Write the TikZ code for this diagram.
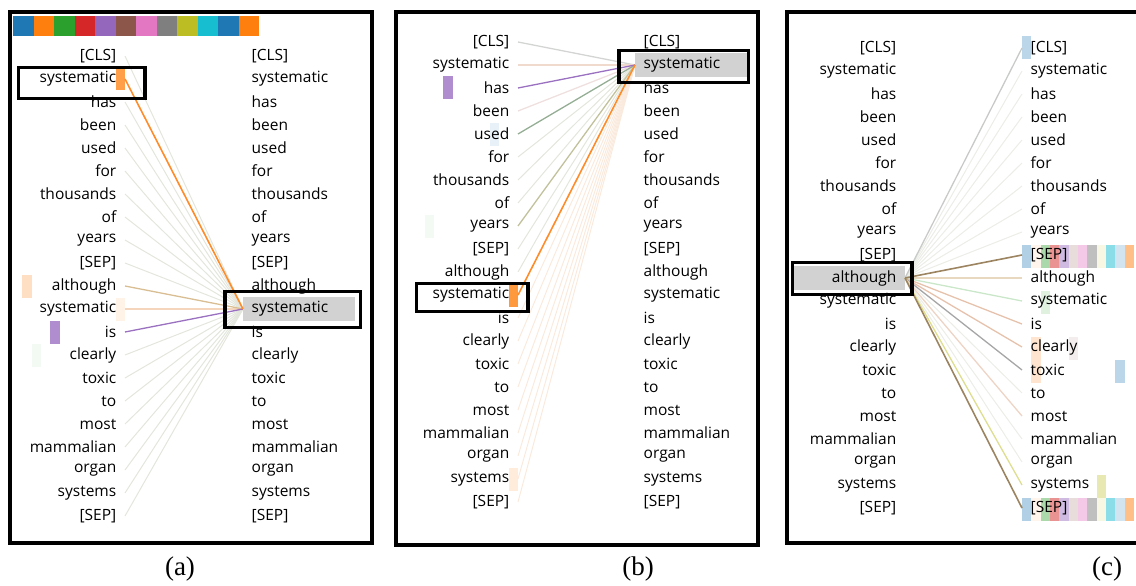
\documentclass[tikz,border=0pt]{standalone}
\usepackage{fontspec}
\setmainfont{Liberation Serif}
\newfontfamily\wordfont{Open Sans}
\usetikzlibrary{calc,backgrounds}

% head colours
\definecolor{tabblue}{HTML}{1F77B4}
\definecolor{taborange}{HTML}{FF7F0E}
\definecolor{tabgreen}{HTML}{2CA02C}
\definecolor{tabred}{HTML}{D62728}
\definecolor{tabpurple}{HTML}{9467BD}
\definecolor{tabbrown}{HTML}{8C564B}
\definecolor{tabpink}{HTML}{E377C2}
\definecolor{tabgray}{HTML}{7F7F7F}
\definecolor{tabolive}{HTML}{BCBD22}
\definecolor{tabcyan}{HTML}{17BECF}
% link colours
\definecolor{faintln}{HTML}{E3E6DC}
\definecolor{tanln}{HTML}{D9BE94}
\definecolor{peachln}{HTML}{F5D5BC}
\definecolor{purpleln}{HTML}{9A70C0}
\definecolor{orangeln}{HTML}{FF8C2A}
\definecolor{greyln}{HTML}{C8CAC8}
\definecolor{brownln}{HTML}{9C8460}
\definecolor{salmonln}{HTML}{E6C2AC}

\def\tokens{{[CLS]},systematic,has,been,used,for,thousands,of,years,{[SEP]},although,systematic,is,clearly,toxic,to,most,mammalian,organ,systems,{[SEP]}}
% one attention cell: x0, row y, head, colour, opacity
\newcommand{\heat}[5]{\fill[#4,opacity=#5] ({#1+9.33*#3},{#2-11.5}) rectangle ++(9.33,23);}

\begin{document}
\begin{tikzpicture}[x=1pt,y=-1pt]
\tikzset{
lword/.style={anchor=east, text width=95pt, align=right, inner xsep=8.5pt, inner ysep=0pt, minimum height=23pt, font=\wordfont\fontsize{15.5}{17}\selectfont},
rword/.style={lword, anchor=west, align=left},
panel/.style={draw=black, line width=3.5pt},
hlbox/.style={draw=black, line width=3.5pt},
link/.style={line width=1.3pt},
weak/.style={line width=1pt, draw=faintln},
caption/.style={font=\fontsize{27}{30}\selectfont},
}
\useasboundingbox (0,0) rectangle (1136,586);

% frames
\draw[panel] (10,12) rectangle (372,543);
\draw[panel] (396,12) rectangle (758,545);
\draw[panel] (787,12) rectangle (1150,543);

% head legend
\foreach \c [count=\k from 0] in {tabblue,taborange,tabgreen,tabred,tabpurple,tabbrown,tabpink,tabgray,tabolive,tabcyan,tabblue,taborange}
  \fill[\c] ({13+20.5*\k},16) rectangle ++(20.5,20);

% attention cells
\heat{13}{79}{11}{taborange}{.75}
\heat{13}{286}{1}{taborange}{.25}
\heat{13}{309}{11}{taborange}{.1}
\heat{13}{332}{4}{tabpurple}{.75}
\heat{13}{355}{2}{tabgreen}{.06}
\heat{406}{88}{4}{tabpurple}{.75}
\heat{406}{295}{11}{taborange}{.8}
\heat{406}{479}{11}{taborange}{.15}
\heat{406}{134}{9}{tabblue}{.1}
\heat{406}{226}{2}{tabgreen}{.06}
\foreach \y in {256,509}{
  \foreach \c/\o [count=\k from 0] in {tabblue/.35,taborange/.08,tabgreen/.4,tabred/.5,tabpurple/.45,tabbrown/.2,tabpink/.4,tabgray/.5,tabolive/.12,tabcyan/.5,tabblue/.2,taborange/.5}
    {\heat{1022}{\y}{\k}{\c}{\o}}
}
\heat{1022}{48}{0}{tabblue}{.3}
\heat{1022}{302}{2}{tabgreen}{.15}
\heat{1022}{348}{1}{taborange}{.2}
\heat{1022}{348}{5}{tabbrown}{.1}
\heat{1022}{371}{1}{taborange}{.2}
\heat{1022}{371}{10}{tabblue}{.3}
\heat{1022}{486}{8}{tabolive}{.35}

% tokens
\foreach \p/\lx/\rx/\ty in {a/125/243/56, b/518/635/42, c/905/1022/48}{
  \foreach \w [count=\i] in \tokens {
    \node[lword] (\p L\i) at (\lx,{\ty+23*(\i-1)}) {\w};
    \node[rword] (\p R\i) at (\rx,{\ty+23*(\i-1)}) {\w};
  }
}
\begin{scope}[on background layer]
\fill[gray!35] (aR12.north west) rectangle (aR12.south east);
\fill[gray!35] (bR2.north west) rectangle (bR2.south east);
\fill[gray!35] (cL11.north west) rectangle (cL11.south east);
\end{scope}

% (a) links into systematic
\foreach \i in {1,3,4,5,6,7,8,9,10,14,15,16,17,18,19,20,21}
  \draw[weak] (aL\i.east) -- (aR12.west);
\draw[link, draw=peachln] (aL12.east) -- (aR12.west);
\draw[link, draw=tanln] (aL11.east) -- (aR12.west);
\draw[link, draw=purpleln] (aL13.east) -- (aR12.west);
\draw[link, draw=orangeln, line width=1.6pt] (aL2.east) -- (aR12.west);

% (b) links into systematic
\foreach \i in {6,7,8,10,11}
  \draw[weak] (bL\i.east) -- (bR2.west);
\foreach \i in {13,14,15,16,17,18,19,20,21}
  \draw[weak, draw=peachln!50] (bL\i.east) -- (bR2.west);
\draw[link, draw=greyln!80] (bL1.east) -- (bR2.west);
\draw[link, draw=salmonln!60] (bL2.east) -- (bR2.west);
\draw[link, draw=salmonln!80!purpleln!40] (bL4.east) -- (bR2.west);
\draw[link, draw=tabgreen!30!gray!70] (bL5.east) -- (bR2.west);
\draw[link, draw=tabolive!40!gray!60] (bL9.east) -- (bR2.west);
\draw[link, draw=purpleln] (bL3.east) -- (bR2.west);
\draw[link, draw=orangeln, line width=1.6pt] (bL12.east) -- (bR2.west);

% (c) links out of although
\foreach \i in {2,3,4,5,6,7,8,9,16,18,19}
  \draw[weak, draw=faintln!70] (cL11.east) -- (cR\i.west);
\draw[link, draw=greyln] (cL11.east) -- (cR1.west);
\draw[link, draw=tanln!60] (cL11.east) -- (cR11.west);
\draw[link, draw=tabgreen!25] (cL11.east) -- (cR12.west);
\draw[link, draw=salmonln] (cL11.east) -- (cR13.west);
\draw[link, draw=salmonln] (cL11.east) -- (cR14.west);
\draw[link, draw=gray!70] (cL11.east) -- (cR15.west);
\draw[link, draw=salmonln!70] (cL11.east) -- (cR17.west);
\draw[link, draw=tabolive!50] (cL11.east) -- (cR20.west);
\draw[link, draw=brownln, line width=1.6pt] (cL11.east) -- (cR10.west);
\draw[link, draw=brownln, line width=1.6pt] (cL11.east) -- (cR21.west);

% selected tokens
\draw[hlbox] ($(aL2.north west)+(6,0)$) rectangle ($(aL2.south east)+(20,8)$);
\draw[hlbox] ($(aR12.north west)+(-18,-6)$) rectangle ($(aR12.south east)+(5,7)$);
\draw[hlbox] ($(bR2.north west)+(-16,-3)$) rectangle ($(bR2.south east)+(1,6)$);
\draw[hlbox] ($(bL12.north west)+(11,0)$) rectangle ($(bL12.south east)+(10,5)$);
\draw[hlbox] ($(cL11.north west)+(0,-4)$) rectangle ($(cL11.south east)+(7,5)$);

% captions
\node[caption] (capa) at (180,569) {(a)};
\node[caption] (capb) at (638,569) {(b)};
\node[caption] (capc) at (1107,569) {(c)};
\end{tikzpicture}
\end{document}
